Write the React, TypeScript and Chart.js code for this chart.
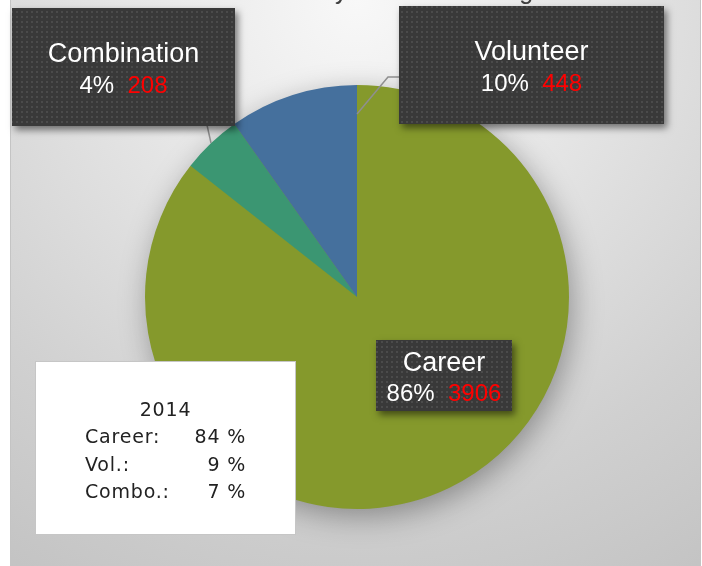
import React, { useEffect, useRef } from 'react';
import { Chart, registerables } from 'chart.js';

Chart.register(...registerables);

// ---- data ----
const categories = ['Career', 'Combination', 'Volunteer'];
const counts = [3906, 208, 448];
const percentLabels = ['86%', '4%', '10%'];
const sliceColors = ['#85992c', '#3b9672', '#45709d'];
const chartTitle = 'Fire Service by Level of Staffing';
const boxYear = '2014';
const boxCategories = ['Career:', 'Vol.:', 'Combo.:'];
const boxPercents = [84, 9, 7];

const FONT = '"Liberation Sans", Arial, sans-serif';

function makePattern(ctx: CanvasRenderingContext2D) {
  const c = document.createElement('canvas');
  c.width = 5;
  c.height = 5;
  const p = c.getContext('2d')!;
  p.fillStyle = '#393939';
  p.fillRect(0, 0, 5, 5);
  p.fillStyle = '#4b4b4b';
  p.fillRect(1, 1, 2, 2);
  return ctx.createPattern(c, 'repeat');
}

const labelPlugin = {
  id: 'customDecor',
  beforeDraw(chart: any) {
    const ctx: CanvasRenderingContext2D = chart.ctx;
    const W = chart.width;
    const H = chart.height;
    const meta = chart.getDatasetMeta(0);
    const arc = meta.data[0];
    const cx = arc.x;
    ctx.save();
    ctx.fillStyle = '#ffffff';
    ctx.fillRect(0, 0, W, H);
    const g = ctx.createRadialGradient(cx, 0, 0, cx, 0, 700);
    g.addColorStop(0, '#f8f8f8');
    g.addColorStop(0.35, '#e5e5e5');
    g.addColorStop(0.7, '#d0d0d0');
    g.addColorStop(1, '#c1c1c1');
    ctx.fillStyle = g;
    ctx.fillRect(10, 0, W - 11, H);
    ctx.strokeStyle = '#c4c4c4';
    ctx.lineWidth = 1;
    ctx.beginPath();
    ctx.moveTo(10.5, 0);
    ctx.lineTo(10.5, H);
    ctx.moveTo(W - 1.5, 0);
    ctx.lineTo(W - 1.5, H);
    ctx.stroke();
    // title (mostly cut off at top)
    ctx.fillStyle = '#404040';
    ctx.font = `25px ${FONT}`;
    ctx.textAlign = 'center';
    ctx.textBaseline = 'alphabetic';
    ctx.fillText(chartTitle, cx, -1);
    ctx.restore();
  },
  beforeDatasetsDraw(chart: any) {
    const ctx: CanvasRenderingContext2D = chart.ctx;
    const arc = chart.getDatasetMeta(0).data[0];
    ctx.save();
    ctx.shadowColor = 'rgba(0,0,0,0.35)';
    ctx.shadowBlur = 30;
    ctx.shadowOffsetX = 4;
    ctx.shadowOffsetY = 8;
    ctx.fillStyle = sliceColors[0];
    ctx.beginPath();
    ctx.arc(arc.x, arc.y, arc.outerRadius - 1, 0, Math.PI * 2);
    ctx.fill();
    ctx.restore();
  },
  afterDatasetsDraw(chart: any) {
    const ctx: CanvasRenderingContext2D = chart.ctx;
    const arc = chart.getDatasetMeta(0).data[0];
    const cx = arc.x;
    const cy = arc.y;
    const r = arc.outerRadius;
    ctx.save();
    // leader lines
    ctx.strokeStyle = '#8f8f8f';
    ctx.lineWidth = 1.5;
    ctx.beginPath();
    ctx.moveTo(cx, cy - r + 29);
    ctx.lineTo(cx + 31, cy - 220);
    ctx.lineTo(cx + 45, cy - 220);
    ctx.stroke();
    ctx.beginPath();
    ctx.moveTo(cx - 150, cy - 172);
    ctx.lineTo(cx - 146, cy - 154);
    ctx.stroke();

    const pattern = makePattern(ctx);
    const boxes = [
      { i: 0, x: 376, y: 340, w: 136, h: 71, b1: 371, b2: 401 },
      { i: 1, x: 12, y: 8, w: 223, h: 118, b1: 62, b2: 93 },
      { i: 2, x: 399, y: 6, w: 265, h: 118, b1: 60, b2: 91 },
    ];
    boxes.forEach((b) => {
      ctx.save();
      ctx.shadowColor = 'rgba(0,0,0,0.5)';
      ctx.shadowBlur = 7;
      ctx.shadowOffsetX = 3;
      ctx.shadowOffsetY = 4;
      ctx.fillStyle = '#3a3a3a';
      ctx.fillRect(b.x, b.y, b.w, b.h);
      ctx.restore();
      ctx.fillStyle = pattern || '#3a3a3a';
      ctx.fillRect(b.x, b.y, b.w, b.h);
      const mid = b.x + b.w / 2;
      ctx.textBaseline = 'alphabetic';
      ctx.textAlign = 'center';
      ctx.fillStyle = '#ffffff';
      ctx.font = `27px ${FONT}`;
      ctx.fillText(categories[b.i], mid, b.b1);
      ctx.font = `24px ${FONT}`;
      const p1 = percentLabels[b.i];
      const gap = '  ';
      const p2 = String(counts[b.i]);
      const w1 = ctx.measureText(p1).width;
      const wg = ctx.measureText(gap).width;
      const w2 = ctx.measureText(p2).width;
      const start = mid - (w1 + wg + w2) / 2;
      ctx.textAlign = 'left';
      ctx.fillStyle = '#ffffff';
      ctx.fillText(p1, start, b.b2);
      ctx.fillStyle = '#ff0000';
      ctx.fillText(p2, start + w1 + wg, b.b2);
    });

    // 2014 summary box
    const bx = 35, by = 361, bw = 261, bh = 174;
    ctx.fillStyle = '#ffffff';
    ctx.fillRect(bx, by, bw, bh);
    ctx.strokeStyle = '#c6c6c6';
    ctx.lineWidth = 1;
    ctx.strokeRect(bx + 0.5, by + 0.5, bw - 1, bh - 1);
    ctx.fillStyle = '#222222';
    ctx.font = '19px "DejaVu Sans", sans-serif';
    (ctx as any).letterSpacing = '0.8px';
    ctx.textAlign = 'center';
    ctx.fillText(boxYear, bx + bw / 2, 416);
    boxCategories.forEach((c, k) => {
      const y = 443 + k * 27.5;
      ctx.textAlign = 'left';
      ctx.fillText(c, bx + 50, y);
      ctx.textAlign = 'right';
      ctx.fillText(`${boxPercents[k]} %`, bx + 211, y);
    });
    (ctx as any).letterSpacing = '0px';
    ctx.restore();
  },
};

export default function App() {
  const ref = useRef<HTMLCanvasElement | null>(null);
  useEffect(() => {
    if (!ref.current) return;
    const chart = new Chart(ref.current, {
      type: 'pie',
      data: {
        labels: categories,
        datasets: [
          {
            data: counts,
            backgroundColor: sliceColors,
            borderWidth: 0,
          },
        ],
      },
      options: {
        responsive: false,
        animation: false,
        layout: { padding: { top: 85, bottom: 57, left: 145, right: 133 } },
        plugins: {
          legend: { display: false },
          tooltip: { enabled: false },
          title: { display: false },
        },
      },
      plugins: [labelPlugin],
    });
    return () => chart.destroy();
  }, []);
  return (
    <div style={{ position: 'absolute', left: 0, top: 0, width: 702, height: 566 }}>
      <canvas ref={ref} width={702} height={566} style={{ display: 'block', width: 702, height: 566 }} />
    </div>
  );
}
